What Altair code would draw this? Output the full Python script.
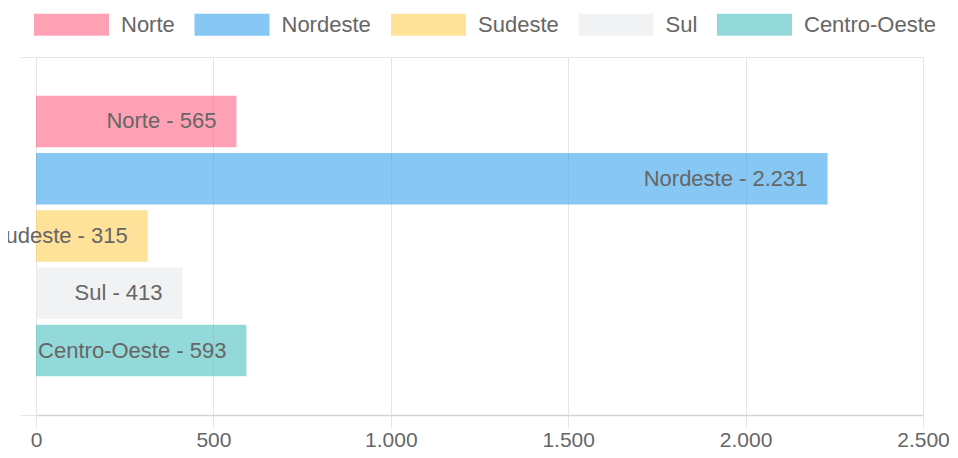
import altair as alt
import pandas as pd

regions = ["Norte", "Nordeste", "Sudeste", "Sul", "Centro-Oeste"]
values = [565, 2231, 315, 413, 593]
colors = ["#FF6384", "#36A2EB", "#FFCE56", "#E7E9ED", "#4BC0C0"]
x_ticks = [0, 500, 1000, 1500, 2000, 2500]

def fmt(v):
    return f"{v:,}".replace(",", ".")

df = pd.DataFrame({
    "grp": [""] * len(regions),
    "region": regions,
    "value": values,
    "label": [f"{r} - {fmt(v)}" for r, v in zip(regions, values)],
})

FONT = "Liberation Sans"
GRID = "#e6e6e6"

x_enc = alt.X(
    "value:Q",
    scale=alt.Scale(domain=[0, 2500], nice=False),
    axis=alt.Axis(
        values=x_ticks,
        title=None,
        grid=True,
        gridColor=GRID,
        tickColor=GRID,
        tickSize=13,
        domainColor="#d4d4d4",
        domainWidth=1.5,
        labelFontSize=21,
        labelColor="#666666",
        labelFont=FONT,
        labelPadding=1,
        labelFlush=False,
        labelOverlap=False,
        labelExpr="replace(format(datum.value, ','), ',', '.')",
    ),
)
y_enc = alt.Y(
    "grp:N",
    scale=alt.Scale(paddingInner=0, paddingOuter=0),
    axis=alt.Axis(
        title=None,
        labels=False,
        tickBand="extent",
        grid=True,
        gridColor=GRID,
        tickColor=GRID,
        tickSize=16,
        domainColor=GRID,
    ),
)
yoff = alt.YOffset(
    "region:N",
    sort=regions,
    scale=alt.Scale(paddingInner=0.1, paddingOuter=0.675),
)

bars = alt.Chart(df).mark_bar(fillOpacity=0.6).encode(
    x=x_enc,
    y=y_enc,
    yOffset=yoff,
    color=alt.Color(
        "region:N",
        sort=regions,
        scale=alt.Scale(domain=regions, range=colors),
        legend=alt.Legend(
            title=None,
            orient="none",
            direction="horizontal",
            legendX=-2,
            legendY=-70,
            symbolType="M-1,-0.2933L1,-0.2933L1,0.2933L-1,0.2933Z",
            symbolSize=5625,
            symbolStrokeWidth=0,
            symbolOpacity=0.6,
            labelFontSize=22,
            labelFont=FONT,
            labelColor="#666666",
            labelOffset=12,
            columnPadding=19.5,
            padding=0,
            columns=5,
        ),
    ),
)

text = alt.Chart(df).mark_text(
    align="right",
    baseline="middle",
    dx=-20,
    fontSize=22,
    font=FONT,
    color="#666666",
).encode(
    x="value:Q",
    y=alt.Y("grp:N"),
    yOffset=alt.YOffset("region:N", sort=regions),
    text="label:N",
)

chart = (
    alt.layer(bars, text)
    .properties(
        width=887,
        height=358,
        autosize=alt.AutoSizeParams(type="none"),
        padding={"left": 28, "top": 49, "right": 27, "bottom": 34},
    )
    .configure_view(strokeWidth=0)
)

chart.save("out.html", embed_options={"renderer": "svg", "actions": False})
